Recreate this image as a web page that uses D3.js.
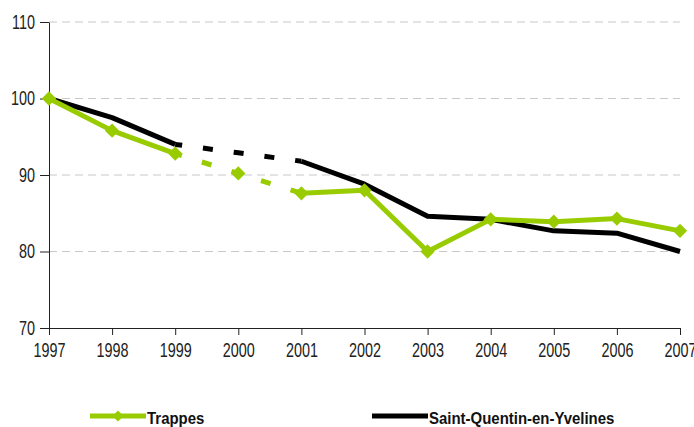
<!DOCTYPE html>
<html>
<head>
<meta charset="utf-8">
<script src="https://cdn.jsdelivr.net/npm/d3@7"></script>
<style>
  body { margin: 0; background: #fff; }
  .axis text { font-family: "Liberation Sans", Arial, sans-serif; font-size: 20px; fill: #222; }
  .axis path, .axis line { stroke: #222; stroke-width: 1; }
  .legend text { font-family: "Liberation Sans", Arial, sans-serif; font-size: 17px; font-weight: bold; fill: #111; }
</style>
</head>
<body>
<svg id="chart"></svg>
<script>
// data
const years = [1997, 1998, 1999, 2000, 2001, 2002, 2003, 2004, 2005, 2006, 2007];
const trappes = [100, 95.8, 92.8, 90.2, 87.6, 88.0, 80.0, 84.2, 83.9, 84.3, 82.7];
const sqy = [100, 97.5, 94.0, 92.9, 91.8, 88.8, 84.6, 84.2, 82.7, 82.4, 80.0];
const yTicks = [70, 80, 90, 100, 110];
const seriesNames = ["Trappes", "Saint-Quentin-en-Yvelines"];
// years linked by dashed segments (estimated values)
const dashedFrom = 1999, dashedTo = 2001;

const width = 694, height = 427;
const margin = { top: 22, right: 14, bottom: 99, left: 49 };
const green = "#99cc00";

const svg = d3.select("#chart").attr("width", width).attr("height", height);

const x = d3.scaleLinear().domain([years[0], years[years.length - 1]])
    .range([margin.left, width - margin.right]);
const y = d3.scaleLinear().domain([70, 110])
    .range([height - margin.bottom, margin.top]);

// gridlines
svg.append("g")
    .selectAll("line")
    .data(yTicks.filter(d => d > 70))
    .join("line")
    .attr("x1", x.range()[0])
    .attr("x2", x.range()[1])
    .attr("y1", d => y(d))
    .attr("y2", d => y(d))
    .attr("stroke", "#c8c8c8")
    .attr("stroke-width", 1)
    .attr("stroke-dasharray", "8,5");

// the original font is a narrow one, squeeze the labels
function squeeze(sel, k) {
    sel.each(function () {
        const w = this.getComputedTextLength();
        d3.select(this).attr("textLength", w * k).attr("lengthAdjust", "spacingAndGlyphs");
    });
}

// axes
svg.append("g")
    .attr("class", "axis")
    .attr("transform", `translate(${margin.left},0)`)
    .call(d3.axisLeft(y).tickValues(yTicks).tickSize(9).tickSizeOuter(0).tickPadding(5).tickFormat(d3.format("d")))
    .selectAll("text").call(squeeze, 0.72);

svg.append("g")
    .attr("class", "axis")
    .attr("transform", `translate(0,${y(70)})`)
    .call(d3.axisBottom(x).tickValues(years).tickSize(7).tickSizeOuter(0).tickPadding(8).tickFormat(d3.format("d")))
    .selectAll("text").call(squeeze, 0.72);

const rows = (vals) => years.map((yr, i) => ({ year: yr, value: vals[i] }));
const line = d3.line().x(d => x(d.year)).y(d => y(d.value));

function drawSeries(vals, color, withMarkers) {
    const data = rows(vals);
    const before = data.filter(d => d.year <= dashedFrom);
    const mid = data.filter(d => d.year >= dashedFrom && d.year <= dashedTo);
    const after = data.filter(d => d.year >= dashedTo);
    const g = svg.append("g");
    [before, after].forEach(part => {
        g.append("path").datum(part)
            .attr("d", line)
            .attr("fill", "none")
            .attr("stroke", color)
            .attr("stroke-width", 5)
            .attr("stroke-linejoin", "round");
    });
    g.append("path").datum(mid)
        .attr("d", line)
        .attr("fill", "none")
        .attr("stroke", color)
        .attr("stroke-width", 5)
        .attr("stroke-dasharray", "10,21")
        .attr("stroke-dashoffset", 3);
    if (withMarkers) {
        g.selectAll("path.mark")
            .data(data)
            .join("path")
            .attr("class", "mark")
            .attr("d", d3.symbol(d3.symbolDiamond2, 130))
            .attr("transform", d => `translate(${x(d.year)},${y(d.value)})`)
            .attr("fill", color);
    }
}

drawSeries(sqy, "#000", false);
drawSeries(trappes, green, true);

// legend
const legend = svg.append("g").attr("class", "legend");
const items = [
    { name: seriesNames[0], color: green, x0: 90, marker: true },
    { name: seriesNames[1], color: "#000", x0: 372, marker: false }
];
items.forEach(it => {
    const lg = legend.append("g").attr("transform", `translate(${it.x0},416)`);
    lg.append("line").attr("x1", 0).attr("x2", 56).attr("y1", 0).attr("y2", 0)
        .attr("stroke", it.color).attr("stroke-width", 5);
    if (it.marker) {
        lg.append("path")
            .attr("d", d3.symbol(d3.symbolDiamond2, 80))
            .attr("transform", "translate(28,0)")
            .attr("fill", it.color);
    }
    lg.append("text").attr("x", 57).attr("y", 8).text(it.name).call(squeeze, 0.88);
});
</script>
</body>
</html>
